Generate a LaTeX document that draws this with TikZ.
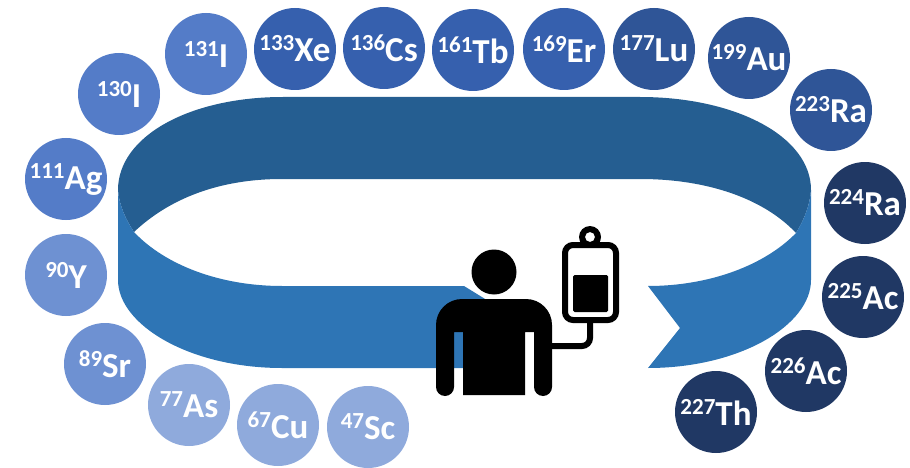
\documentclass[tikz,border=0pt]{standalone}
\usepackage{fontspec}
\setmainfont{Carlito}[BoldFont={Carlito Bold}]
\definecolor{bandback}{HTML}{255E91}
\definecolor{bandfront}{HTML}{2E75B5}
\definecolor{cA}{HTML}{8FAADC}
\definecolor{cB}{HTML}{6E91D2}
\definecolor{cC}{HTML}{547CC8}
\definecolor{cD}{HTML}{3660AE}
\definecolor{cF}{HTML}{2F5597}
\definecolor{cE}{HTML}{203864}
\tikzset{
  iso/.style={circle,minimum size=82,inner sep=0,text=white,font=\bfseries\fontsize{35}{35}\selectfont},
}
\newcommand{\isotope}[5]{\node[iso,fill=#1] (#2) at #3 {\raisebox{11pt}{\fontsize{23}{23}\selectfont #4}#5};}
\begin{document}
\begin{tikzpicture}[x=1pt,y=-1pt]
\useasboundingbox (0,0) rectangle (910,468);
% back of band
\fill[bandback] (118,190) .. controls (118,136) and (190,97) .. (283,97) -- (640,97)
  .. controls (735,97) and (811,136) .. (811,190)
  .. controls (810,205) and (804,220) .. (796,233)
  .. controls (765,200) and (710,179) .. (640,179) -- (282,179)
  .. controls (220,179) and (170,198) .. (134,232)
  .. controls (126,220) and (119,205) .. (118,190) -- cycle;
% front of band, left part
\fill[bandfront] (118,190) .. controls (119,205) and (126,220) .. (134,232)
  .. controls (165,265) and (220,286) .. (282,286) -- (464,286) -- (490,302) -- (463,368) -- (282,368)
  .. controls (190,368) and (118,325) .. (118,280) -- cycle;
% front of band, right part
\fill[bandfront] (811,190) .. controls (810,205) and (804,220) .. (796,233)
  .. controls (765,265) and (710,286) .. (648,286) -- (680,328) -- (648,368)
  .. controls (740,368) and (811,325) .. (811,280) -- cycle;
% isotopes
\isotope{cA}{sc}{(368,427)}{47}{Sc}
\isotope{cA}{cu}{(278,425)}{67}{Cu}
\isotope{cA}{as}{(189,405)}{77}{As}
\isotope{cB}{sr}{(105,364)}{89}{Sr}
\isotope{cB}{y}{(66,275)}{90}{Y}
\isotope{cC}{ag}{(66,179)}{111}{Ag}
\isotope{cC}{ia}{(119,94)}{130}{I}
\isotope{cC}{ib}{(206,54)}{131}{I}
\isotope{cD}{xe}{(295,49)}{133}{Xe}
\isotope{cD}{cs}{(384,48)}{136}{Cs}
\isotope{cD}{tb}{(473,50)}{161}{Tb}
\isotope{cD}{er}{(564,49)}{169}{Er}
\isotope{cF}{lu}{(654,49)}{177}{Lu}
\isotope{cF}{au}{(749,58)}{199}{Au}
\isotope{cF}{raa}{(831,110)}{223}{Ra}
\isotope{cE}{rab}{(865,203)}{224}{Ra}
\isotope{cE}{aca}{(863,297)}{225}{Ac}
\isotope{cE}{acb}{(806,371)}{226}{Ac}
\isotope{cE}{th}{(716,412)}{227}{Th}
% patient
\fill[black] (494,272) circle (22.5);
\fill[black] (436,387) -- (436,325) arc[start angle=180,end angle=270,radius=26] -- (526,299)
  arc[start angle=270,end angle=360,radius=26] -- (552,387)
  arc[start angle=0,end angle=180,radius=9] -- (534,332) -- (525,332) -- (525,395) -- (463,395) -- (463,332) -- (454,332) -- (454,387)
  arc[start angle=0,end angle=180,radius=9] -- cycle;
% IV bag
\fill[black,even odd rule] (590,237) circle (11) (590,237) circle (5);
\draw[black,line width=6,fill=white,rounded corners=8] (565,245) rectangle (616,320);
\fill[black,rounded corners=1.5] (573,275) rectangle (608,312);
\draw[black,line width=6,rounded corners=8] (590,322) -- (590,346) -- (550,346);
\end{tikzpicture}
\end{document}
